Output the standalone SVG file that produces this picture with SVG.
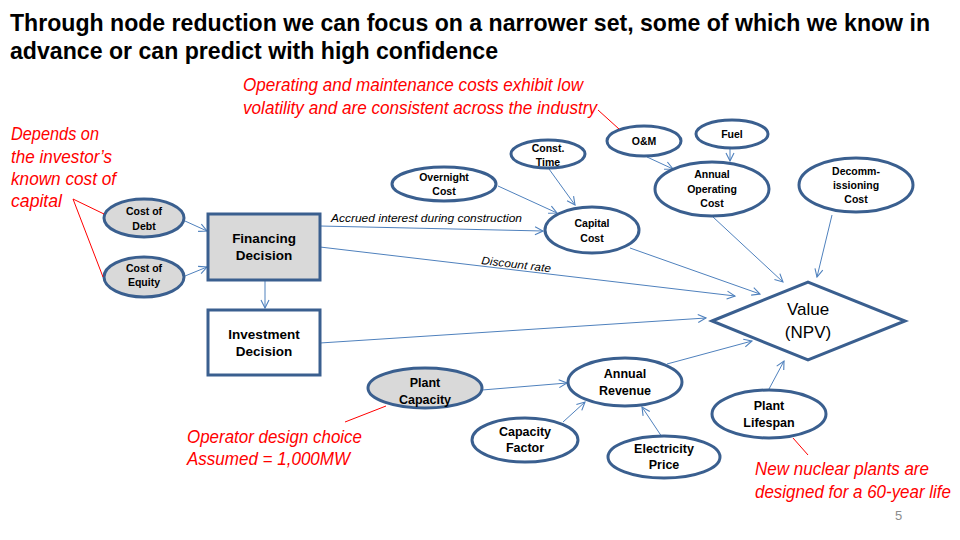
<svg xmlns="http://www.w3.org/2000/svg" width="960" height="540" viewBox="0 0 960 540">
  <defs>
    <marker id="arrow" viewBox="0 0 10 10" refX="9" refY="5" markerWidth="10" markerHeight="10" markerUnits="userSpaceOnUse" orient="auto">
      <path d="M1,1 L9,5 L1,9" fill="none" stroke="#4f81bd" stroke-width="1.1"/>
    </marker>
    <style>
      .title { font-family: "Liberation Sans", Arial, sans-serif; font-weight: bold; font-size: 24px; fill: #000; }
      .node { stroke: #3a5f8f; stroke-width: 3; fill: #ffffff; }
      .grey { fill: #d9d9d9; }
      .lbl { font-family: "Liberation Sans", Arial, sans-serif; font-weight: bold; font-size: 10.5px; fill: #000; text-anchor: middle; }
      .lbl-m { font-size: 12.5px; }
      .lbl-l { font-size: 13.5px; }
      .val { font-family: "Liberation Sans", Arial, sans-serif; font-size: 17px; fill: #000; text-anchor: middle; }
      .edge { stroke: #4f81bd; stroke-width: 1; fill: none; marker-end: url(#arrow); }
      .elbl { font-family: "Liberation Sans", Arial, sans-serif; font-style: italic; font-size: 11px; fill: #000; }
      .note { font-family: "Liberation Sans", Arial, sans-serif; font-style: italic; font-size: 17.5px; fill: #ff0000; }
      .call { stroke: #ff0000; stroke-width: 1; fill: none; }
    </style>
  </defs>

  <rect x="0" y="0" width="960" height="540" fill="#ffffff"/>

  <!-- Heading -->
  <text class="title" x="10" y="31" textLength="920" lengthAdjust="spacingAndGlyphs">Through node reduction we can focus on a narrower set, some of which we know in</text>
  <text class="title" x="10" y="59" textLength="488" lengthAdjust="spacingAndGlyphs">advance or can predict with high confidence</text>

  <!-- Connectors -->
  <g id="connectors">
    <line class="edge" x1="185" y1="221" x2="207" y2="231"/>
    <line class="edge" x1="185" y1="276" x2="207" y2="267"/>
    <line class="edge" x1="265" y1="280" x2="265" y2="308"/>
    <line class="edge" x1="320" y1="226" x2="543" y2="231"/>
    <line class="edge" x1="320" y1="247" x2="735" y2="296"/>
    <line class="edge" x1="320" y1="343" x2="706" y2="318"/>
    <line class="edge" x1="498" y1="186" x2="557" y2="213"/>
    <line class="edge" x1="549" y1="169" x2="575" y2="205"/>
    <line class="edge" x1="630" y1="248" x2="760" y2="294"/>
    <line class="edge" x1="647" y1="157" x2="673" y2="169"/>
    <line class="edge" x1="730" y1="149" x2="730" y2="161"/>
    <line class="edge" x1="713" y1="217" x2="783" y2="282"/>
    <line class="edge" x1="832" y1="215" x2="817" y2="277"/>
    <line class="edge" x1="482" y1="390" x2="567" y2="383"/>
    <line class="edge" x1="563" y1="422" x2="585" y2="402"/>
    <line class="edge" x1="662" y1="437" x2="642" y2="407"/>
    <line class="edge" x1="667" y1="364" x2="752" y2="341"/>
    <line class="edge" x1="769" y1="389" x2="784" y2="361"/>
    <text class="elbl" x="331" y="222" textLength="191" lengthAdjust="spacingAndGlyphs">Accrued interest during construction</text>
    <text class="elbl" x="481" y="264" transform="rotate(6.7 481 264)" textLength="70" lengthAdjust="spacingAndGlyphs">Discount rate</text>
  </g>

  <!-- Nodes -->
  <g id="cost-of-debt">
    <ellipse class="node grey" cx="144" cy="218" rx="40" ry="19"/>
    <text class="lbl" x="144" y="215">Cost of</text>
    <text class="lbl" x="144" y="230">Debt</text>
  </g>
  <g id="cost-of-equity">
    <ellipse class="node grey" cx="144" cy="277" rx="40" ry="20"/>
    <text class="lbl" x="144" y="272">Cost of</text>
    <text class="lbl" x="144" y="286">Equity</text>
  </g>
  <g id="financing-decision">
    <rect class="node grey" x="208" y="214" width="112" height="66"/>
    <text class="lbl lbl-l" x="264" y="243">Financing</text>
    <text class="lbl lbl-l" x="264" y="260">Decision</text>
  </g>
  <g id="investment-decision">
    <rect class="node" x="208" y="310" width="112" height="65"/>
    <text class="lbl lbl-l" x="264" y="339">Investment</text>
    <text class="lbl lbl-l" x="264" y="356">Decision</text>
  </g>
  <g id="overnight-cost">
    <ellipse class="node" cx="444" cy="184" rx="52" ry="17"/>
    <text class="lbl" x="444" y="181">Overnight</text>
    <text class="lbl" x="444" y="195">Cost</text>
  </g>
  <g id="const-time">
    <ellipse class="node" cx="548" cy="154" rx="37" ry="14"/>
    <text class="lbl" x="548" y="152">Const.</text>
    <text class="lbl" x="548" y="166">Time</text>
  </g>
  <g id="capital-cost">
    <ellipse class="node" cx="592" cy="230" rx="47" ry="23"/>
    <text class="lbl" x="592" y="227">Capital</text>
    <text class="lbl" x="592" y="242">Cost</text>
  </g>
  <g id="om">
    <ellipse class="node" cx="644" cy="141" rx="37" ry="15"/>
    <text class="lbl" x="644" y="145">O&amp;M</text>
  </g>
  <g id="fuel">
    <ellipse class="node" cx="732" cy="134" rx="36" ry="14"/>
    <text class="lbl" x="732" y="138">Fuel</text>
  </g>
  <g id="annual-operating-cost">
    <ellipse class="node" cx="712" cy="189" rx="57" ry="27"/>
    <text class="lbl" x="712" y="178">Annual</text>
    <text class="lbl" x="712" y="193">Operating</text>
    <text class="lbl" x="712" y="207">Cost</text>
  </g>
  <g id="decommissioning-cost">
    <ellipse class="node" cx="856" cy="185" rx="57" ry="27"/>
    <text class="lbl" x="856" y="175">Decomm-</text>
    <text class="lbl" x="856" y="189">issioning</text>
    <text class="lbl" x="856" y="203">Cost</text>
  </g>
  <g id="value">
    <polygon class="node" points="712,321 808,282 905,321 808,360"/>
    <text class="val" x="808" y="315">Value</text>
    <text class="val" x="808" y="338">(NPV)</text>
  </g>
  <g id="plant-capacity">
    <ellipse class="node grey" cx="425" cy="388" rx="57" ry="20"/>
    <text class="lbl lbl-m" x="425" y="387">Plant</text>
    <text class="lbl lbl-m" x="425" y="404">Capacity</text>
  </g>
  <g id="annual-revenue">
    <ellipse class="node" cx="625" cy="382" rx="57" ry="24"/>
    <text class="lbl lbl-m" x="625" y="378">Annual</text>
    <text class="lbl lbl-m" x="625" y="395">Revenue</text>
  </g>
  <g id="capacity-factor">
    <ellipse class="node" cx="525" cy="440" rx="53" ry="22"/>
    <text class="lbl lbl-m" x="525" y="436">Capacity</text>
    <text class="lbl lbl-m" x="525" y="452">Factor</text>
  </g>
  <g id="electricity-price">
    <ellipse class="node" cx="664" cy="457" rx="56" ry="21"/>
    <text class="lbl lbl-m" x="664" y="453">Electricity</text>
    <text class="lbl lbl-m" x="664" y="469">Price</text>
  </g>
  <g id="plant-lifespan">
    <ellipse class="node" cx="769" cy="414" rx="57" ry="24"/>
    <text class="lbl lbl-m" x="769" y="410">Plant</text>
    <text class="lbl lbl-m" x="769" y="427">Lifespan</text>
  </g>

  <!-- Red annotations -->
  <g id="note-cost-of-capital">
    <text class="note" x="11" y="140" textLength="88" lengthAdjust="spacingAndGlyphs">Depends on</text>
    <text class="note" x="11" y="163" textLength="101" lengthAdjust="spacingAndGlyphs">the investor’s</text>
    <text class="note" x="11" y="185" textLength="105" lengthAdjust="spacingAndGlyphs">known cost of</text>
    <text class="note" x="11" y="207" textLength="51" lengthAdjust="spacingAndGlyphs">capital</text>
    <polyline class="call" points="104,214 73,199 103,277"/>
  </g>
  <g id="note-om">
    <text class="note" x="243" y="91" textLength="340" lengthAdjust="spacingAndGlyphs">Operating and maintenance costs exhibit low</text>
    <text class="note" x="243" y="114" textLength="354" lengthAdjust="spacingAndGlyphs">volatility and are consistent across the industry</text>
    <line class="call" x1="598" y1="110" x2="619" y2="129"/>
  </g>
  <g id="note-capacity">
    <text class="note" x="187" y="443" textLength="175" lengthAdjust="spacingAndGlyphs">Operator design choice</text>
    <text class="note" x="187" y="465" textLength="163" lengthAdjust="spacingAndGlyphs">Assumed = 1,000MW</text>
    <line class="call" x1="345" y1="422" x2="386" y2="406"/>
  </g>
  <g id="note-lifespan">
    <text class="note" x="755" y="475" textLength="174" lengthAdjust="spacingAndGlyphs">New nuclear plants are</text>
    <text class="note" x="755" y="498" textLength="196" lengthAdjust="spacingAndGlyphs">designed for a 60-year life</text>
    <line class="call" x1="793" y1="438" x2="808" y2="455"/>
  </g>

  <text x="895" y="520" font-family="Liberation Sans, Arial, sans-serif" font-size="13" fill="#8c8c8c">5</text>
</svg>
